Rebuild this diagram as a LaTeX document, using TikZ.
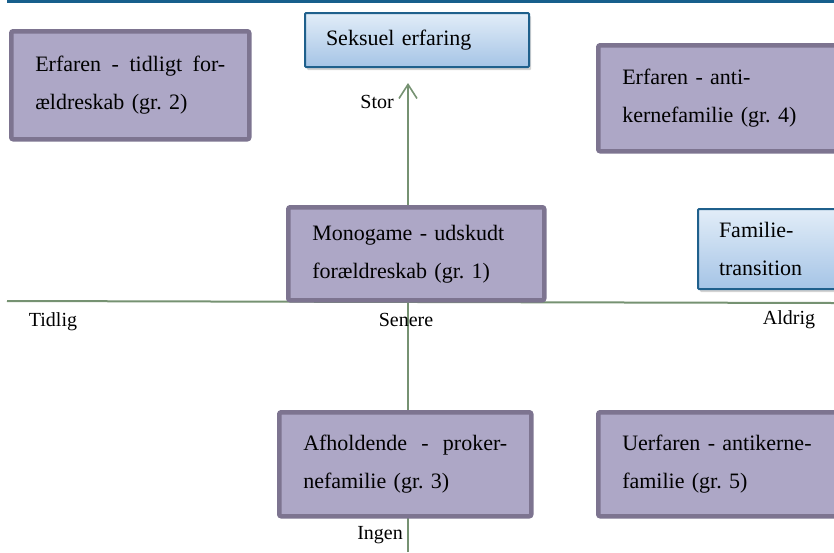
\documentclass[tikz,border=0pt]{standalone}
\usepackage{fontspec}
\setmainfont{Liberation Serif}
\usepackage{tikz}
\usetikzlibrary{arrows.meta,shadows}
\frenchspacing
\definecolor{topline}{RGB}{23,95,140}
\definecolor{grpfill}{RGB}{173,167,198}
\definecolor{grpedge}{RGB}{125,116,144}
\definecolor{dimedge}{RGB}{31,96,140}
\definecolor{dimtop}{RGB}{226,237,248}
\definecolor{dimbot}{RGB}{165,196,230}
\definecolor{aksefarve}{RGB}{118,146,114}
\newcommand{\boxfont}{\fontsize{22}{38}\selectfont}
\newcommand{\lblfont}{\fontsize{20}{24}\selectfont}
\tikzstyle{grp}=[draw=grpedge, fill=grpfill, line width=4.5pt, rounded corners=2pt,
anchor=north west, align=left, inner xsep=24pt, inner ysep=2pt, font=\boxfont]
\tikzstyle{dim}=[draw=dimedge, top color=dimtop, bottom color=dimbot, line width=2pt,
rounded corners=1pt, anchor=north west, align=left, inner xsep=21pt, inner ysep=2pt,
font=\boxfont, drop shadow={shadow xshift=2pt, shadow yshift=-3pt, opacity=0.35}]
\tikzstyle{akse}=[draw=aksefarve, line width=2pt]
\tikzstyle{lbl}=[font=\lblfont, inner sep=0pt]
\begin{document}
\begin{tikzpicture}[x=1pt,y=-1pt]
\clip (0,0) rectangle (834,552);
\coordinate (topv) at (7,1.5);
\coordinate (toph) at (834,1.5);
\coordinate (vest) at (7,301);
\coordinate (oest) at (834,303);
\coordinate (bund) at (408,552);
\coordinate (optop) at (408,83);
\draw[topline, line width=3.5pt] (topv) -- (toph);
\draw[akse] (vest) -- (oest);
\draw[akse, line width=1.6pt, -{Straight Barb[length=14pt,width=18pt]}] (bund) -- (optop);
% dimensioner
\node[dim, text width=182pt, minimum height=54pt] (seksuel) at (304,12) {Seksuel erfaring};
\node[dim, text width=120pt, minimum height=80pt] (trans) at (697,208) {Familie-\\transition};
% grupper
\node[grp, text width=190pt, minimum height=108pt] (gr2) at (9,29) {Erfaren \hfill - \hfill tidligt \hfill for-\\ældreskab (gr. 2)};
\node[grp, text width=208pt, minimum height=106pt] (gr4) at (596,43) {Erfaren - anti-\\kernefamilie (gr. 4)};
\node[grp, text width=208pt, minimum height=93pt] (gr1) at (286,205) {Monogame - udskudt\\forældreskab (gr. 1)};
\node[grp, text width=204pt, minimum height=104pt] (gr3) at (277,410) {Afholdende \hfill - \hfill proker-\\nefamilie (gr. 3)};
\node[grp, text width=208pt, minimum height=104pt] (gr5) at (596,410) {Uerfaren - antikerne-\\familie (gr. 5)};
% akselabels
\node[lbl] (tidlig) at (53,322) {Tidlig};
\node[lbl] (senere) at (406,320) {Senere};
\node[lbl] (aldrig) at (789,320) {Aldrig};
\node[lbl, anchor=east] (stor) at (394,102) {Stor};
\node[lbl, anchor=east] (ingen) at (403,535) {Ingen};
\end{tikzpicture}
\end{document}
